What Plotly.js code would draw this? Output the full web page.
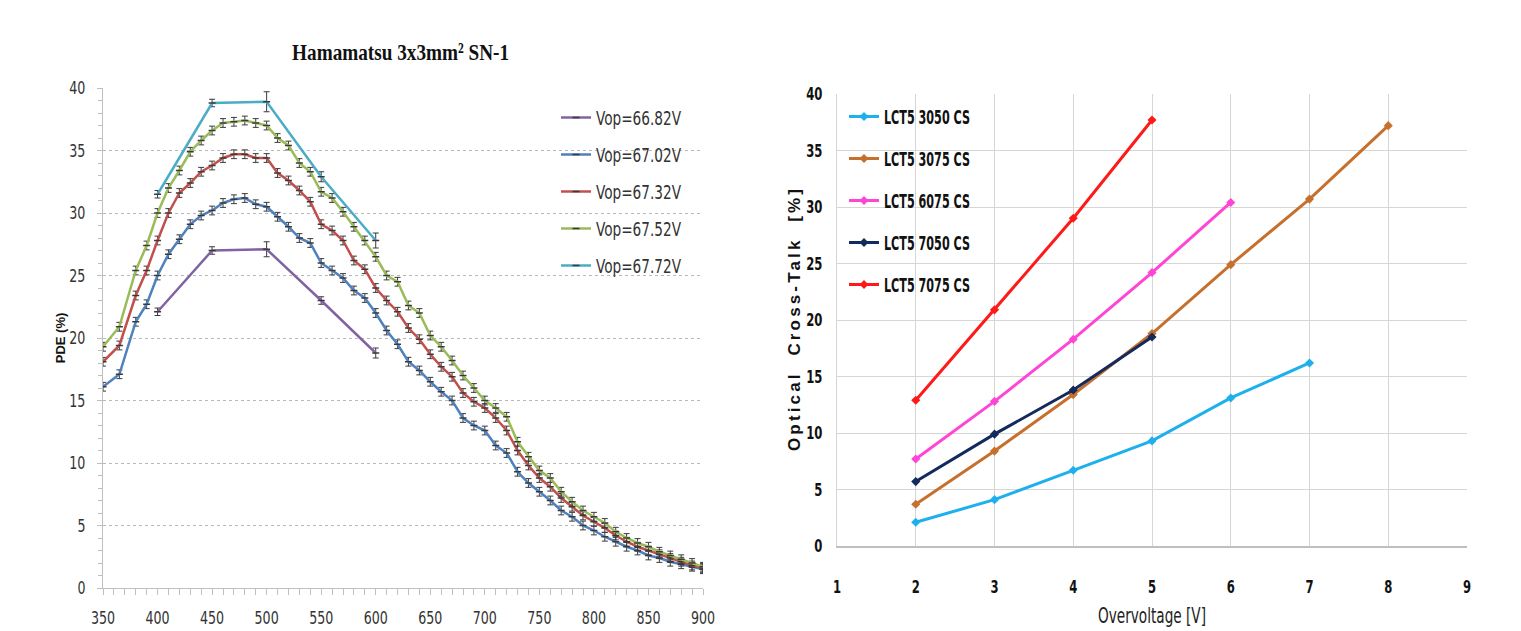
<!DOCTYPE html>
<html>
<head>
<meta charset="utf-8">
<script src="https://cdn.plot.ly/plotly-3.0.1.min.js"></script>
<style>
html,body{margin:0;padding:0;background:#fff;}
#chart{width:1521px;height:631px;}
</style>
</head>
<body>
<div id="chart"></div>
<script>
// ---------- Left chart data (PDE vs wavelength) ----------
const wavelength = [350,365,380,390,
  400,410,420,430,440,450,460,470,480,490,
  500,510,520,530,540,550,560,570,580,590,
  600,610,620,630,640,650,660,670,680,690,
  700,710,720,730,740,750,760,770,780,790,
  800,810,820,830,840,850,860,870,880,890,
  900];
const pde_6702 = [16.1,17.1,21.3,22.7,
  25.0,26.7,27.9,29.1,29.8,30.2,30.8,31.1,31.2,30.7,
  30.5,29.7,28.9,28.0,27.6,26.0,25.4,24.8,23.8,23.2,
  22.0,20.6,19.5,18.1,17.4,16.5,15.7,15.0,13.6,13.0,
  12.6,11.4,10.8,9.3,8.4,7.7,7.0,6.2,5.7,5.0,
  4.6,4.1,3.7,3.3,3.0,2.6,2.4,2.1,1.9,1.7,
  1.5];
const pde_6732 = [18.1,19.4,23.4,25.4,
  27.8,30.0,31.6,32.4,33.3,33.8,34.4,34.7,34.7,34.4,
  34.4,33.2,32.6,31.8,30.9,29.1,28.6,27.8,26.2,25.5,
  24.0,23.0,22.1,20.8,19.9,18.7,17.7,16.9,15.6,14.9,
  14.4,13.6,12.6,11.0,9.8,8.8,8.1,7.2,6.5,5.8,
  5.3,4.8,4.2,3.7,3.3,3.0,2.7,2.4,2.1,1.8,
  1.6];
const pde_6752 = [19.3,20.9,25.4,27.4,
  30.0,32.0,33.4,34.9,35.8,36.6,37.2,37.3,37.4,37.2,
  37.0,36.0,35.4,34.0,33.3,31.7,31.2,30.1,28.9,27.8,
  26.5,25.0,24.5,22.6,22.0,20.2,19.3,18.2,17.0,16.0,
  15.0,14.4,13.7,11.7,10.5,9.4,8.8,7.7,6.9,6.2,
  5.7,5.2,4.5,4.0,3.6,3.3,2.9,2.6,2.3,2.0,
  1.7];
const wavelength_sparse = [400,450,500,550,600];
const pde_6682 = [22.1,27.0,27.1,23.0,18.8];
const pde_6772 = [31.5,38.8,38.9,32.9,27.8];
const err_6682 = [0.3,0.3,0.6,0.3,0.4];
const err_6772 = [0.3,0.3,0.8,0.4,0.6];
const leftNames = ["Vop=66.82V","Vop=67.02V","Vop=67.32V","Vop=67.52V","Vop=67.72V"];

// ---------- Right chart data (cross-talk vs overvoltage) ----------
const ov_3050 = [2,3,4,5,6,7];
const ct_3050 = [2.1,4.1,6.7,9.3,13.1,16.2];
const ov_3075 = [2,3,4,5,6,7,8];
const ct_3075 = [3.7,8.4,13.4,18.8,24.9,30.7,37.2];
const ov_6075 = [2,3,4,5,6];
const ct_6075 = [7.7,12.8,18.3,24.2,30.4];
const ov_7050 = [2,3,4,5];
const ct_7050 = [5.7,9.9,13.8,18.5];
const ov_7075 = [2,3,4,5];
const ct_7075 = [12.9,20.9,29.0,37.7];
const rightNames = ["LCT5 3050 CS","LCT5 3075 CS","LCT5 6075 CS","LCT5 7050 CS","LCT5 7075 CS"];

const W = 1521, H = 631;
const px = v => v / W;
const py = v => (H - v) / H;

const errStyle = (arr) => arr
  ? {type:'data', array:arr, visible:true, color:'#3a3a3a', thickness:1, width:3}
  : {type:'constant', value:0.35, visible:true, color:'#3a3a3a', thickness:1, width:3};

function leftTrace(x, y, name, color, grp, err) {
  return {
    x:x, y:y, name:name, type:'scatter', mode:'lines+markers',
    xaxis:'x', yaxis:'y', legend:'legend', legendgroup:grp,
    line:{color:color, width:2.5},
    marker:{symbol:'line-ew', size:5, line:{color:'#3a3a3a', width:1.5}, color:color},
    error_y: errStyle(err)
  };
}
function rightTrace(x, y, name, color, grp) {
  return {
    x:x, y:y, name:name, type:'scatter', mode:'lines+markers',
    xaxis:'x2', yaxis:'y2', legend:'legend2', legendgroup:grp,
    line:{color:color, width:3},
    marker:{symbol:'diamond', size:7, color:color}
  };
}

const data = [
  leftTrace(wavelength_sparse, pde_6682, leftNames[0], '#8064A2', 'a1', err_6682),
  leftTrace(wavelength, pde_6702, leftNames[1], '#4F81BD', 'a2'),
  leftTrace(wavelength, pde_6732, leftNames[2], '#C0504D', 'a3'),
  leftTrace(wavelength, pde_6752, leftNames[3], '#9BBB59', 'a4'),
  leftTrace(wavelength_sparse, pde_6772, leftNames[4], '#4BACC6', 'a5', err_6772),
  rightTrace(ov_3050, ct_3050, rightNames[0], '#1EB0EC', 'b1'),
  rightTrace(ov_3075, ct_3075, rightNames[1], '#C6702E', 'b2'),
  rightTrace(ov_6075, ct_6075, rightNames[2], '#FF45D6', 'b3'),
  rightTrace(ov_7050, ct_7050, rightNames[3], '#132A5C', 'b4'),
  rightTrace(ov_7075, ct_7075, rightNames[4], '#FF1A1A', 'b5')
];

const narrow = "'DejaVu Sans Condensed', 'DejaVu Sans', Arial, sans-serif";

const layout = {
  width:W, height:H,
  margin:{l:0, r:0, t:0, b:0},
  paper_bgcolor:'#ffffff', plot_bgcolor:'#ffffff',
  showlegend:true,
  xaxis:{
    domain:[px(103), px(703)], range:[350,900], anchor:'y',
    tickmode:'linear', tick0:350, dtick:50,
    ticks:'outside', ticklen:6, tickcolor:'#bfbfbf',
    minor:{dtick:10, ticks:'outside', ticklen:6, tickcolor:'#bfbfbf', showgrid:false},
    showgrid:false, zeroline:false,
    showline:true, linecolor:'#bfbfbf', linewidth:1,
    tickfont:{family:narrow, size:18, color:'#333'},
    ticklabelstandoff:7
  },
  yaxis:{
    domain:[py(588), py(88)], range:[0,40], anchor:'x',
    tickmode:'linear', tick0:0, dtick:5,
    ticks:'outside', ticklen:5, tickcolor:'#bfbfbf',
    minor:{dtick:1, ticks:'outside', ticklen:4, tickcolor:'#bfbfbf', showgrid:false},
    showgrid:true, gridcolor:'#b8b8b8', griddash:'dot', gridwidth:1,
    zeroline:false, showline:true, linecolor:'#bfbfbf', linewidth:1,
    tickfont:{family:narrow, size:18, color:'#333'},
    ticklabelstandoff:8,
    title:{text:'PDE (%)', font:{family:'Arial, Liberation Sans, sans-serif', size:13, color:'#111', weight:'bold'}, standoff:0}
  },
  xaxis2:{
    domain:[px(837), px(1467)], range:[1,9], anchor:'y2',
    tickmode:'linear', tick0:1, dtick:1,
    ticks:'', showgrid:true, gridcolor:'#d6d6d6', gridwidth:1,
    zeroline:false, showline:true, linecolor:'#bfbfbf', linewidth:1.5, mirror:false,
    tickfont:{family:narrow, size:18, color:'#111', weight:'bold'},
    ticklabelstandoff:24,
    title:{text:'Overvoltage [V]', font:{family:narrow, size:21, color:'#222'}, standoff:12}
  },
  yaxis2:{
    domain:[py(546), py(94)], range:[0,40], anchor:'x2',
    tickmode:'linear', tick0:0, dtick:5,
    ticks:'', showgrid:true, gridcolor:'#d6d6d6', gridwidth:1,
    zeroline:false, showline:true, linecolor:'#d6d6d6', linewidth:1,
    tickfont:{family:narrow, size:18, color:'#111', weight:'bold'},
    ticklabelstandoff:10,
    title:{text:'Optical  Cross-Talk  [%]', font:{family:'Arial, Liberation Sans, sans-serif', size:17, color:'#111', weight:'bold'}, standoff:0}
  },
  legend:{
    x:px(556), y:py(98), xanchor:'left', yanchor:'top',
    bgcolor:'rgba(255,255,255,0)', borderwidth:0,
    font:{family:narrow, size:20, color:'#333'},
    traceorder:'grouped', tracegroupgap:8, itemwidth:30
  },
  legend2:{
    x:px(844), y:py(97), xanchor:'left', yanchor:'top',
    bgcolor:'rgba(255,255,255,0)', borderwidth:0,
    font:{family:narrow, size:20, color:'#111', weight:'bold'},
    traceorder:'grouped', tracegroupgap:13, itemwidth:30
  },
  annotations:[
    {text:'Hamamatsu 3x3mm² SN-1', xref:'paper', yref:'paper',
     x:px(400), y:py(52), xanchor:'center', yanchor:'middle', showarrow:false,
     font:{family:"'Liberation Serif', 'Times New Roman', serif", size:24, color:'#111', weight:'bold'}}
  ]
};

// Emulate the condensed faces of the original by compressing glyphs horizontally.
function squeezeEl(el, factor) {
  const w = el.getComputedTextLength();
  if (w > 0) {
    el.setAttribute('textLength', (w * factor).toFixed(1));
    el.setAttribute('lengthAdjust', 'spacingAndGlyphs');
  }
}
function fitEl(el, len) {
  el.setAttribute('textLength', String(len));
  el.setAttribute('lengthAdjust', 'spacingAndGlyphs');
}
function squeeze(root, selector, factor) {
  root.querySelectorAll(selector).forEach(el => squeezeEl(el, factor));
}
function finish(gd) {
  squeeze(gd, '.xtick text, .ytick text', 0.78);
  squeeze(gd, '.x2tick text, .y2tick text', 0.72);
  gd.querySelectorAll('text').forEach(el => {
    const t = el.textContent || '';
    if (t.indexOf('Vop=') === 0) fitEl(el, 85);
    else if (t.indexOf('LCT5') === 0) fitEl(el, 86);
  });
  gd.querySelectorAll('.g-x2title text').forEach(el => fitEl(el, 108));
  squeeze(gd, '.annotation-text', 0.8);
  gd.querySelectorAll('.g-y2title text').forEach(el => {
    el.setAttribute('textLength', 262);
    el.setAttribute('lengthAdjust', 'spacing');
  });
  const yt2 = gd.querySelector('.g-y2title');
  if (yt2) yt2.setAttribute('transform', 'translate(6,0)');
  const yt = gd.querySelector('.g-ytitle');
  if (yt) yt.setAttribute('transform', 'translate(4,0)');
}

Plotly.newPlot('chart', data, layout, {displayModeBar:false, staticPlot:true}).then(gd => {
  finish(gd);
});
</script>
</body>
</html>
